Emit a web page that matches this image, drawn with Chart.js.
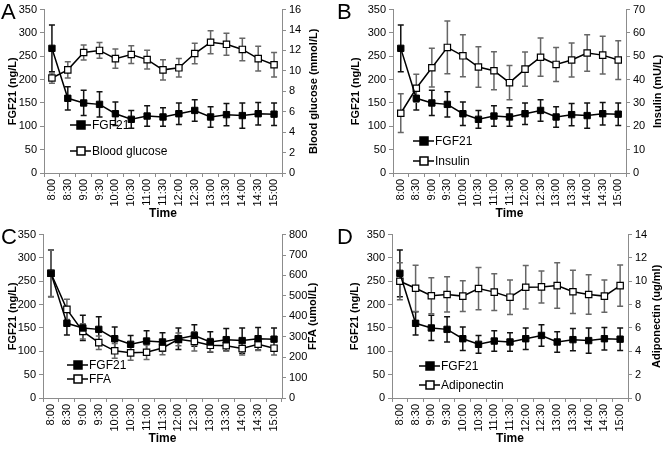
<!DOCTYPE html>
<html>
<head>
<meta charset="utf-8">
<script src="https://cdn.jsdelivr.net/npm/chart.js@4"></script>
<style>
  body { margin: 0; background: #fff; }
  #wrap { position: relative; width: 672px; height: 450px; }
  canvas { position: absolute; }
</style>
</head>
<body>
<div id="wrap">
  <canvas id="chartA" width="336" height="225" style="left:0;top:0"></canvas>
  <canvas id="chartB" width="336" height="225" style="left:336px;top:0"></canvas>
  <canvas id="chartC" width="336" height="225" style="left:0;top:225px"></canvas>
  <canvas id="chartD" width="336" height="225" style="left:336px;top:225px"></canvas>
</div>
<script>
const times = ['8:00','8:30','9:00','9:30','10:00','10:30','11:00','11:30','12:00','12:30','13:00','13:30','14:00','14:30','15:00'];

const fgf21 = [267, 160, 150, 147, 127, 115, 122, 120, 127, 134, 120, 125, 123, 127, 126];
const fgf21Err = [50, 25, 27, 27, 25, 19, 22, 20, 23, 23, 22, 24, 27, 24, 24];

const glucose = [9.3, 10.1, 11.8, 12.0, 11.2, 11.6, 11.1, 10.1, 10.3, 11.7, 12.8, 12.6, 12.1, 11.2, 10.6];
const glucoseErr = [0.5, 0.8, 0.73, 0.77, 0.95, 0.87, 0.92, 1.0, 0.9, 1.0, 1.13, 1.08, 1.1, 1.22, 1.2];

const insulin = [25.6, 36.3, 45.1, 53.8, 50.2, 45.4, 43.8, 38.7, 44.5, 49.6, 46.5, 48.4, 51.4, 50.5, 48.4];
const insulinErr = [8.3, 6.0, 8.3, 11.3, 9.0, 8.7, 8.1, 7.3, 7.3, 8.2, 7.3, 7.3, 7.8, 8.1, 8.3];

const ffa = [611, 434, 326, 271, 231, 221, 224, 245, 287, 277, 258, 256, 242, 263, 244];
const ffaErr = [114, 50, 37, 33, 36, 36, 35, 33, 31, 47, 33, 26, 31, 31, 34];

const adiponectin = [10.0, 9.4, 8.76, 8.87, 8.73, 9.38, 9.07, 8.64, 9.49, 9.52, 9.63, 9.1, 8.87, 8.73, 9.63];
const adiponectinErr = [1.58, 1.98, 1.55, 1.51, 1.31, 1.81, 1.57, 1.48, 1.86, 1.37, 1.95, 1.85, 1.7, 1.38, 1.77];

const FONT = "'Liberation Sans', Arial, sans-serif";
const AXIS = '#8c8c8c';

// error bars drawn under the markers
const errorBars = {
    id: 'errorBars',
    beforeDatasetsDraw(chart) {
        const ctx = chart.ctx;
        chart.data.datasets.forEach((ds, i) => {
            if (!ds.errors) return;
            const meta = chart.getDatasetMeta(i);
            const ys = chart.scales[ds.yAxisID];
            ctx.save();
            ctx.strokeStyle = ds.errColor;
            ctx.lineWidth = 1.5;
            meta.data.forEach((pt, j) => {
                const top = ys.getPixelForValue(ds.data[j] + ds.errors[j]);
                const bot = ys.getPixelForValue(ds.data[j] - ds.errors[j]);
                ctx.beginPath();
                ctx.moveTo(pt.x, top); ctx.lineTo(pt.x, bot);
                ctx.moveTo(pt.x - 3, top); ctx.lineTo(pt.x + 3, top);
                ctx.moveTo(pt.x - 3, bot); ctx.lineTo(pt.x + 3, bot);
                ctx.stroke();
            });
            ctx.restore();
        });
    }
};

// panel letter, axis titles (both read bottom to top) and in-plot legend
const extras = {
    id: 'extras',
    afterDraw(chart, args, opts) {
        const ctx = chart.ctx;
        const area = chart.chartArea;
        const midY = (area.top + area.bottom) / 2;
        ctx.save();
        ctx.fillStyle = '#000';
        ctx.font = '22px ' + FONT;
        ctx.textBaseline = 'top';
        ctx.fillText(opts.letter, 1, 2);

        ctx.font = 'bold 11px ' + FONT;
        ctx.textAlign = 'center';
        ctx.textBaseline = 'middle';
        [[opts.leftX, 'FGF21 (ng/L)'], [area.right + opts.rightOff, opts.rightTitle]].forEach(([x, t]) => {
            ctx.save();
            ctx.translate(x, midY);
            ctx.rotate(-Math.PI / 2);
            ctx.fillText(t, 0, 0);
            ctx.restore();
        });

        ctx.font = '12px ' + FONT;
        ctx.textAlign = 'left';
        chart.data.datasets.forEach((ds, i) => {
            const y = opts.legendY[i];
            const x = opts.legendX;
            ctx.strokeStyle = '#000';
            ctx.lineWidth = 1.5;
            ctx.beginPath();
            ctx.moveTo(x, y); ctx.lineTo(x + 21, y);
            ctx.stroke();
            ctx.fillStyle = ds.pointBackgroundColor;
            ctx.fillRect(x + 7, y - 4, 8, 8);
            ctx.strokeRect(x + 7, y - 4, 8, 8);
            ctx.fillStyle = '#000';
            ctx.fillText(ds.label, x + 22, y + 1);
        });
        ctx.restore();
    }
};

function makeChart(id, o) {
    const ctx = document.getElementById(id).getContext('2d');
    return new Chart(ctx, {
        type: 'line',
        data: {
            labels: times,
            datasets: [
                {
                    label: 'FGF21',
                    data: fgf21,
                    errors: fgf21Err,
                    errColor: '#111',
                    yAxisID: 'y',
                    borderColor: '#000',
                    borderWidth: 1.5,
                    pointStyle: 'rect',
                    pointRadius: 4.5,
                    pointBackgroundColor: '#000',
                    pointBorderColor: '#000',
                    pointBorderWidth: 1,
                    tension: 0
                },
                {
                    label: o.label,
                    data: o.data,
                    errors: o.err,
                    errColor: '#666',
                    yAxisID: 'y2',
                    borderColor: '#000',
                    borderWidth: 1.5,
                    pointStyle: 'rect',
                    pointRadius: 4.5,
                    pointBackgroundColor: '#fff',
                    pointBorderColor: '#000',
                    pointBorderWidth: 1.2,
                    tension: 0
                }
            ]
        },
        options: {
            responsive: false,
            animation: false,
            layout: { padding: { top: o.top, bottom: 0, left: 0, right: 0 } },
            plugins: {
                legend: { display: false },
                tooltip: { enabled: false },
                extras: { letter: o.letter, legendX: o.legendX, legendY: o.legendY,
                          leftX: o.leftX, rightOff: o.rightOff, rightTitle: o.title }
            },
            scales: {
                x: {
                    offset: true,
                    grid: { drawOnChartArea: false, offset: true, tickLength: 4, color: AXIS },
                    border: { color: AXIS },
                    ticks: { autoSkip: false, minRotation: 90, maxRotation: 90, color: '#000', font: { family: FONT, size: 11 }, padding: 2 },
                    title: { display: true, text: 'Time', color: '#000', font: { family: FONT, size: 12, weight: 'bold' }, padding: { top: 2 } },
                    afterFit(s) { s.height = o.xh; }
                },
                y: {
                    position: 'left',
                    min: 0, max: 350,
                    grid: { drawOnChartArea: false, tickLength: 4, color: AXIS },
                    border: { color: AXIS },
                    ticks: { stepSize: 50, color: '#000', font: { family: FONT, size: 11 }, padding: 3 },
                    afterFit(s) { s.width = o.lw; }
                },
                y2: {
                    position: 'right',
                    min: 0, max: o.max,
                    grid: { drawOnChartArea: false, tickLength: 4, color: AXIS },
                    border: { color: AXIS },
                    ticks: { stepSize: o.step, color: '#000', font: { family: FONT, size: 11 }, padding: 3 },
                    afterFit(s) { s.width = o.rw; }
                }
            }
        },
        plugins: [errorBars, extras]
    });
}

makeChart('chartA', { letter: 'A', label: 'Blood glucose', data: glucose, err: glucoseErr,
    max: 16, step: 2, title: 'Blood glucose (mmol/L)', top: 9, lw: 44, rw: 54, xh: 52,
    leftX: 13, rightOff: 32, legendX: 70, legendY: [125, 151] });
makeChart('chartB', { letter: 'B', label: 'Insulin', data: insulin, err: insulinErr,
    max: 70, step: 10, title: 'Insulin (mU/L)', top: 9, lw: 57, rw: 46, xh: 52,
    leftX: 20, rightOff: 32, legendX: 77, legendY: [141, 161] });
makeChart('chartC', { letter: 'C', label: 'FFA', data: ffa, err: ffaErr,
    max: 800, step: 100, title: 'FFA (umol/L)', top: 7, lw: 43, rw: 54, xh: 52,
    leftX: 13, rightOff: 31, legendX: 67, legendY: [140, 154] });
makeChart('chartD', { letter: 'D', label: 'Adiponectin', data: adiponectin, err: adiponectinErr,
    max: 14, step: 2, title: 'Adiponectin (ug/ml)', top: 8, lw: 56, rw: 44, xh: 52,
    leftX: 19, rightOff: 29, legendX: 83, legendY: [141, 160] });
</script>
</body>
</html>
